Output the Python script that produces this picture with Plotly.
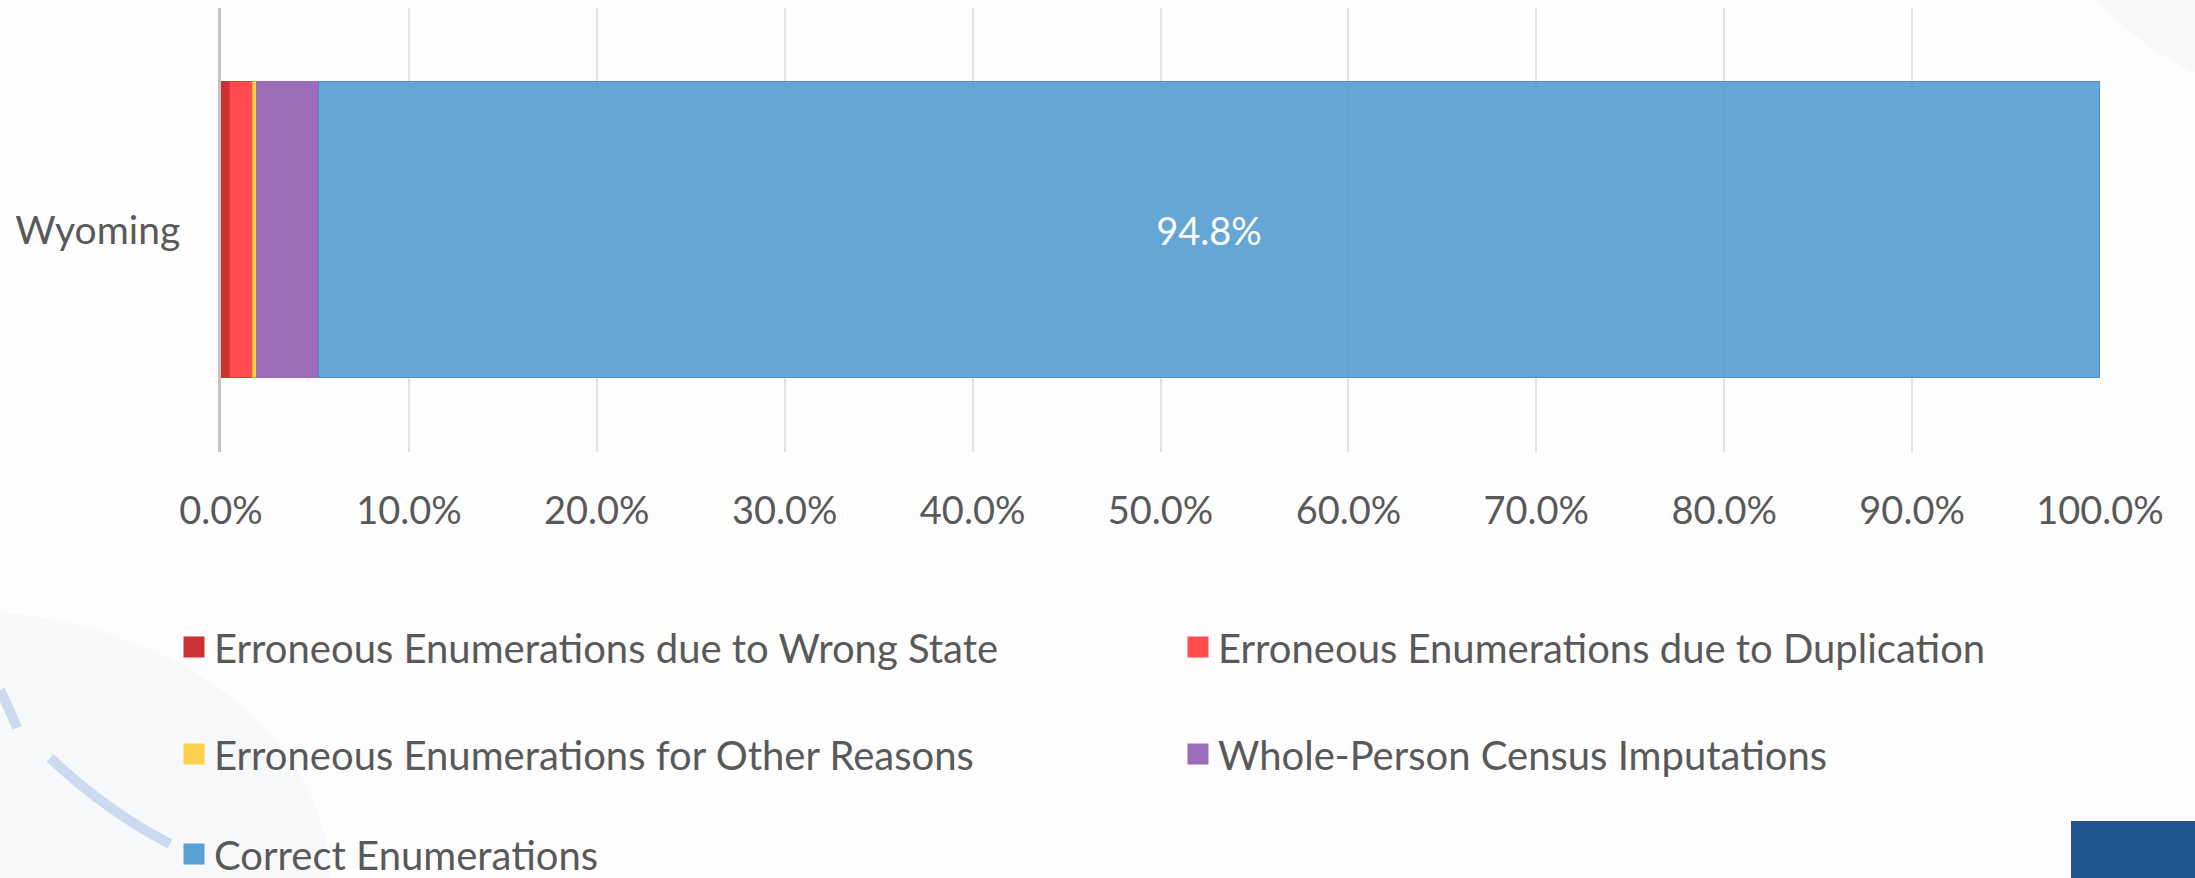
import plotly.graph_objects as go

# ---- data ----
states = ["Wyoming"]
series_names = [
    "Erroneous Enumerations due to Wrong State",
    "Erroneous Enumerations due to Duplication",
    "Erroneous Enumerations for Other Reasons",
    "Whole-Person Census Imputations",
    "Correct Enumerations",
]
wrong_state = [0.5]
duplication = [1.2]
other_reasons = [0.2]
imputations = [3.3]
correct = [94.8]
tick_values = [0, 10, 20, 30, 40, 50, 60, 70, 80, 90, 100]
tick_labels = ["0.0%", "10.0%", "20.0%", "30.0%", "40.0%", "50.0%",
               "60.0%", "70.0%", "80.0%", "90.0%", "100.0%"]

series_values = [wrong_state, duplication, other_reasons, imputations, correct]
colors = ["#CC3134", "#FF4D4F", "#FDD04C", "#9B6DB9", "#5BA1D4"]
edge_colors = ["#CC3134", "#FF2A2A", "#F5B325", "#9B6DB9", "#4A86C8"]

W, H = 2195, 878
L, R, T, B = 221, 95, 8, 426
FONT = "Lato, Liberation Sans, sans-serif"
GREY = "#595959"

def px(x):
    return (x - L) / (W - L - R)

def py(y):
    return (H - B - y) / (H - T - B)

# legend placement (pixel position of item text start / row centre)
legend_ids = ["legend", "legend2", "legend3", "legend4", "legend5"]
legend_text_x = [215, 1219, 215, 1219, 215]
legend_row_y = [648, 648, 755, 755, 855]

fig = go.Figure()
for i, (name, vals) in enumerate(zip(series_names, series_values)):
    is_last = i == len(series_names) - 1
    fig.add_trace(go.Bar(
        y=states, x=vals, name=name, orientation="h",
        width=0.667,
        marker=dict(color=colors[i], line=dict(color=edge_colors[i], width=1)),
        opacity=0.94 if is_last else 1.0,
        text=[f"{v:.1f}%" for v in vals] if is_last else None,
        textposition="inside" if is_last else "none",
        insidetextanchor="middle",
        textfont=dict(color="white", size=38, family=FONT),
        legendgroup=name, showlegend=False,
        hoverinfo="x+name",
    ))
    # legend swatch (larger square than the default bar symbol), linked by group
    fig.add_trace(go.Scatter(
        x=[None], y=[None], mode="markers", name=name,
        marker=dict(symbol="square", size=16, color=colors[i],
                    line=dict(color=colors[i], width=5)),
        legendgroup=name, showlegend=True, legend=legend_ids[i],
        hoverinfo="skip",
    ))

# background decorations
shapes = [
    dict(type="circle", xref="paper", yref="paper",
         x0=px(2040), x1=px(2700), y0=py(112), y1=py(-400),
         fillcolor="#f5f7f9", line=dict(width=0), layer="below"),
    dict(type="circle", xref="paper", yref="paper",
         x0=px(-420), x1=px(330), y0=py(1150), y1=py(610),
         fillcolor="#f7f8fa", line=dict(width=0), layer="below"),
    dict(type="path", xref="paper", yref="paper",
         path=f"M {px(0)},{py(690)} Q {px(9)},{py(708)} {px(17)},{py(728)}",
         line=dict(color="#cbdaee", width=10), layer="below"),
    dict(type="path", xref="paper", yref="paper",
         path=f"M {px(50)},{py(758)} Q {px(108)},{py(812)} {px(170)},{py(844)}",
         line=dict(color="#cbdaee", width=10), layer="below"),
    dict(type="rect", xref="paper", yref="paper",
         x0=px(2071), x1=px(2200), y0=py(821), y1=py(880),
         fillcolor="#21558F", line=dict(width=0), layer="above"),
]

legends = {}
for lid, tx, ry in zip(legend_ids, legend_text_x, legend_row_y):
    legends[lid] = dict(
        orientation="h", xref="container", yref="container",
        xanchor="left", yanchor="middle",
        x=(tx - 41) / W, y=1 - (ry - 1) / H,
        font=dict(size=40, color=GREY, family=FONT),
        bgcolor="rgba(0,0,0,0)", borderwidth=0,
        itemsizing="trace",
    )

fig.update_layout(
    width=W, height=H,
    margin=dict(l=L, r=R, t=T, b=B, pad=0),
    paper_bgcolor="#fdfdfe",
    plot_bgcolor="rgba(0,0,0,0)",
    barmode="stack",
    bargap=0,
    showlegend=True,
    xaxis=dict(range=[0, 100], tickvals=tick_values, ticktext=tick_labels,
               showgrid=True, gridcolor="#e3e3e3", gridwidth=2,
               zeroline=False, showline=False, automargin=False,
               tickfont=dict(size=38, color=GREY, family=FONT),
               ticks="", ticklabelstandoff=33, fixedrange=True),
    yaxis=dict(type="category", range=[-0.5, 0.5], showgrid=False,
               zeroline=False, showline=True, linecolor="#c4c4c4",
               linewidth=3, automargin=False,
               tickfont=dict(size=39, color=GREY, family=FONT),
               ticks="", ticklabelstandoff=30, fixedrange=True),
    shapes=shapes,
    uniformtext=dict(minsize=10, mode="show"),
    **legends,
)

fig.write_html(
    "out.html",
    config={"displayModeBar": False},
    post_script="document.body.style.margin='0';document.body.style.overflow='hidden';",
)
